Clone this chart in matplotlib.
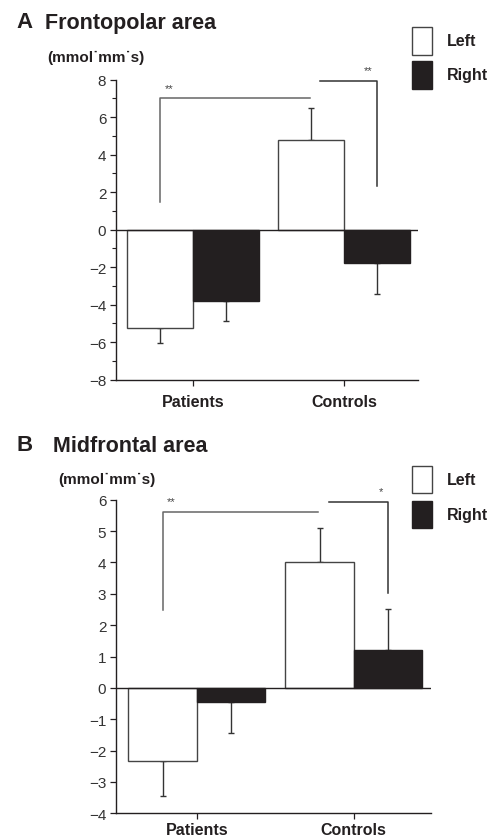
import matplotlib
matplotlib.use("Agg")
import matplotlib.pyplot as plt
from matplotlib.patches import Rectangle
from matplotlib.ticker import MultipleLocator
import numpy as np

plt.rcParams['font.family'] = ['Liberation Sans', 'DejaVu Sans']

groups = ["Patients", "Controls"]
series = ["Left", "Right"]

# Panel A: Frontopolar area
a_left = [-5.26, 4.81]
a_right = [-3.82, -1.79]
a_left_err = [0.80, 1.66]
a_right_err = [1.05, 1.63]
a_ticks = [-8, -6, -4, -2, 0, 2, 4, 6, 8]

# Panel B: Midfrontal area
b_left = [-2.34, 4.00]
b_right = [-0.44, 1.22]
b_left_err = [1.12, 1.10]
b_right_err = [1.01, 1.31]
b_ticks = [-4, -3, -2, -1, 0, 1, 2, 3, 4, 5, 6]

# significance brackets: (height, left drop end, right drop end, label)
a_sig = [(7.02, 1.48, None, "**"), (7.94, None, 2.35, "**")]
b_sig = [(5.61, 2.47, None, "**"), (5.94, None, 3.02, "*")]

W, H = 491, 837
fig = plt.figure(figsize=(W / 100, H / 100), dpi=100)
TXT = "#231f20"
BLACK = "#231f20"

def fx(px):
    return px / W

def fy(py):
    return 1 - py / H

def panel(rect, left, right, lerr, rerr, ticks, ylim, xlim, minor, sig, xpad):
    ax = fig.add_axes(rect)
    x = np.arange(len(groups))
    w = 0.435
    ax.bar(x - w / 2, left, w, color="white", edgecolor="#444444", linewidth=1.0, zorder=2)
    ax.bar(x + w / 2, right, w, color=BLACK, edgecolor=BLACK, linewidth=1.0, zorder=2)
    for xs, vals, errs in ((x - w / 2, left, lerr), (x + w / 2, right, rerr)):
        for xi, v, e in zip(xs, vals, errs):
            lo = [[e], [0]] if v < 0 else [[0], [e]]
            ax.errorbar([xi], [v], yerr=lo, fmt="none", ecolor="#333333",
                        elinewidth=1.0, capsize=2.5, capthick=1.0, zorder=1)
    ax.axhline(0, color=TXT, lw=1.0, zorder=3)
    ax.set_xlim(*xlim)
    ax.set_ylim(*ylim)
    ax.set_yticks(ticks)
    ax.set_yticklabels([str(t).replace("-", "\u2212") for t in ticks])
    if minor:
        ax.yaxis.set_minor_locator(MultipleLocator(1))
        ax.tick_params(axis="y", which="minor", length=3, width=0.8, color=TXT)
    ax.set_xticks(x)
    ax.set_xticklabels(groups, fontweight="bold", fontsize=11.5, color=TXT)
    ax.tick_params(axis="y", which="major", length=4, width=0.9, color=TXT,
                   labelsize=11, labelcolor="#333333", pad=3)
    ax.tick_params(axis="x", length=4, width=0.9, color=TXT, pad=xpad)
    for s in ("top", "right"):
        ax.spines[s].set_visible(False)
    for s in ("left", "bottom"):
        ax.spines[s].set_color(TXT)
        ax.spines[s].set_linewidth(1.0)
    # significance brackets
    pl = x[0] - w / 2
    cl = x[1] - w / 2
    cr = x[1] + w / 2
    h1, d1, _, l1 = sig[0]
    ax.plot([pl, pl, cl - 0.01], [d1, h1, h1], color="#666666", lw=1.1, clip_on=False)
    ax.text(pl + 0.03, h1 + (ylim[1] - ylim[0]) * 0.018, l1, fontsize=8,
            ha="left", va="bottom", color="#444444")
    h2, _, d2, l2 = sig[1]
    ax.plot([cl + 0.06, cr, cr], [h2, h2, d2], color="#333333", lw=1.1, clip_on=False)
    ax.text(cr - 0.03, h2 + (ylim[1] - ylim[0]) * 0.018, l2, fontsize=8,
            ha="right", va="bottom", color="#444444")
    return ax

axA = panel([fx(116), fy(380.7), fx(418) - fx(116), fy(80.7) - fy(380.7)],
            a_left, a_right, a_left_err, a_right_err, a_ticks, (-8, 8),
            (-0.506, 1.486), True, a_sig, 6)
axB = panel([fx(116), fy(814.3), fx(430.7) - fx(116), fy(500.7) - fy(814.3)],
            b_left, b_right, b_left_err, b_right_err, b_ticks, (-4, 6),
            (-0.514, 1.490), False, b_sig, 2)

# titles
fig.text(fx(16), fy(22), "A", fontsize=16, fontweight="bold", color=TXT, va="center")
fig.text(fx(45), fy(23), "Frontopolar area", fontsize=15.5, fontweight="bold", color=TXT, va="center")
fig.text(fx(16), fy(446), "B", fontsize=16, fontweight="bold", color=TXT, va="center")
fig.text(fx(53), fy(447), "Midfrontal area", fontsize=15.5, fontweight="bold", color=TXT, va="center")
unit = "(mmol\u02d9mm\u02d9s)"
fig.text(fx(47), fy(58), unit, fontsize=11, fontweight="bold", color=TXT, va="center")
fig.text(fx(58), fy(480), unit, fontsize=11, fontweight="bold", color=TXT, va="center")

# legends
def legend(y_left_top, y_right_top):
    for top, name, fc in ((y_left_top, series[0], "white"), (y_right_top, series[1], BLACK)):
        fig.add_artist(Rectangle((fx(411.7), fy(top + 27.5)), fx(20.6), 27.5 / H,
                                 transform=fig.transFigure, facecolor=fc,
                                 edgecolor="#444444" if fc == "white" else BLACK, lw=1.0))
        fig.text(fx(446.5), fy(top + 13.5), name, fontsize=11.5, fontweight="bold",
                 color=TXT, va="center")

legend(28, 62)
legend(466.7, 501.7)

fig.savefig("out.png", dpi=100)
